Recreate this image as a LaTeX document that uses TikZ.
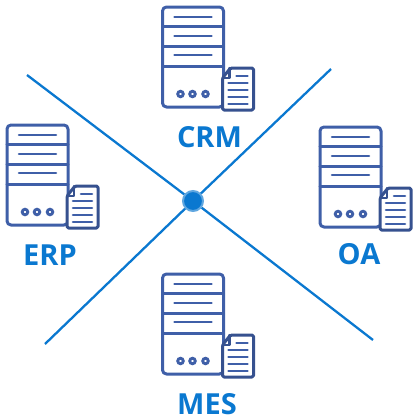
\documentclass[tikz,border=0pt]{standalone}
\usepackage{fontspec}
\setmainfont{Open Sans}
\definecolor{srv}{HTML}{3F5FA8}
\definecolor{lnk}{HTML}{0A78D0}
\tikzset{
  srvline/.style={draw=srv,line width=3pt,line cap=round,line join=round},
  docline/.style={draw=srv!85!black,line width=3pt,line cap=round,line join=round},
  srvthin/.style={draw=srv,line width=2.6pt,line cap=round},
  linkline/.style={draw=lnk,line width=2.3pt},
  lbl/.style={text=lnk,font=\fontsize{29}{29}\selectfont\bfseries,inner sep=0pt},
  hubdot/.style={circle,fill=lnk,draw=lnk!65!white,line width=2pt,minimum size=20pt,inner sep=0pt},
  server/.pic={
    \draw[srvline,rounded corners=4pt] (0,0) rectangle (61,100);
    \draw[srvline] (0,19) -- (61,19) (0,39) -- (61,39) (0,59) -- (61,59);
    \draw[srvthin] (12,10) -- (49,10) (12,29) -- (49,29) (12,48) -- (49,48);
    \foreach \cx in {18,30,43} \draw[srv,line width=2.8pt] (\cx,87) circle[radius=2.8pt];
    \draw[docline,fill=white,rounded corners=1.5pt] (60,71) -- (68,61) -- (91,61) -- (91,103) -- (60,103) -- cycle;
    \draw[docline,line width=2.2pt] (60,71) -- (67,71) -- (67,61);
    \draw[srvthin] (74,69) -- (85,69) (66,76) -- (85,76) (66,83) -- (85,83) (66,90) -- (85,90) (66,97) -- (85,97);
  }
}
\begin{document}
\begin{tikzpicture}[x=1pt,y=-1pt]
\useasboundingbox (0,0) rectangle (414,418);
\coordinate (nw) at (27,75);
\coordinate (se) at (373,340);
\coordinate (ne) at (331,69);
\coordinate (sw) at (45,344);
\node[hubdot] (hub) at (193,201) {};
\draw[linkline] (nw) -- (hub);
\draw[linkline] (hub) -- (se);
\draw[linkline] (ne) -- (hub);
\draw[linkline] (hub) -- (sw);
\pic at (162.5,7) {server};
\pic at (7,125) {server};
\pic at (320,127) {server};
\pic at (162.5,274) {server};
\node[lbl] (crm) at (209.5,137) {CRM};
\node[lbl] (erp) at (50,255) {ERP};
\node[lbl] (oa) at (359,254) {OA};
\node[lbl] (mes) at (207,404) {MES};
\end{tikzpicture}
\end{document}
